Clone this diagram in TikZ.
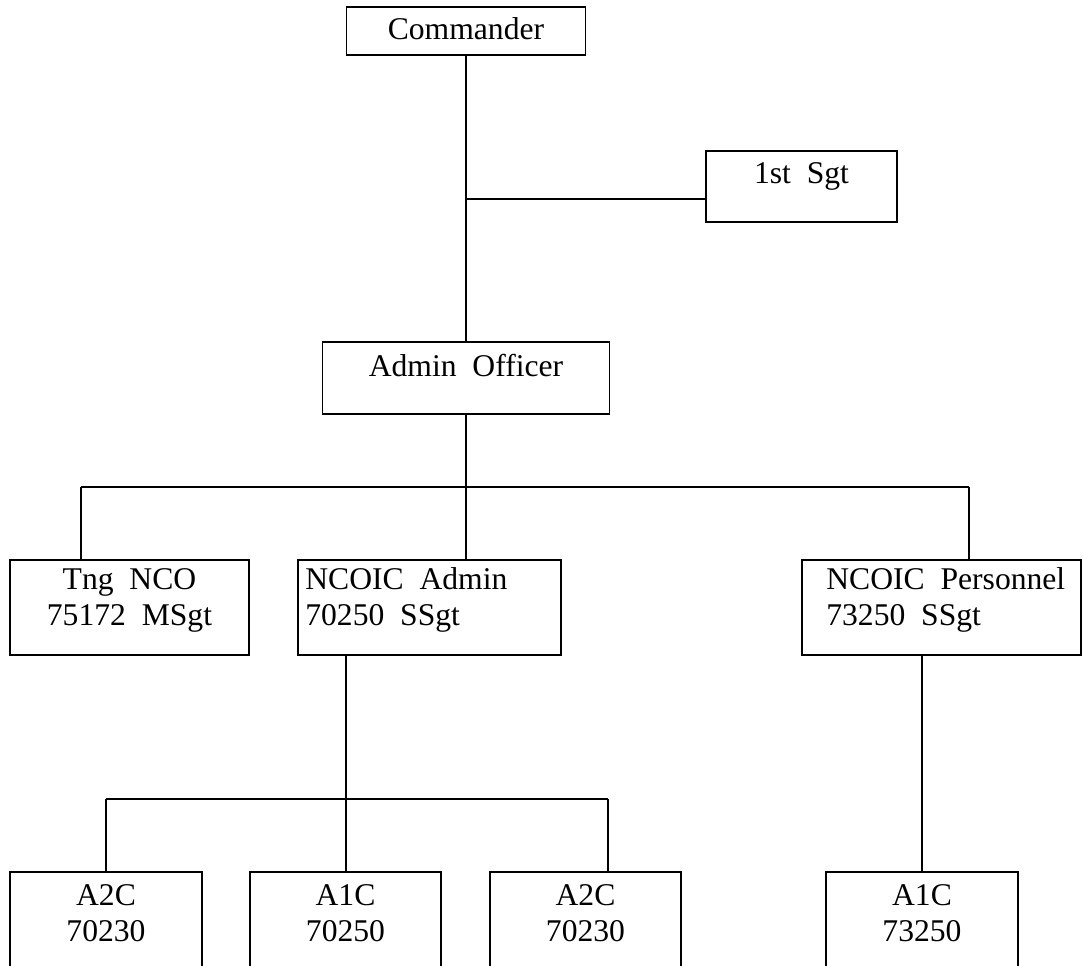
\documentclass[tikz,border=0pt]{standalone}
\usepackage{fontspec}
\setmainfont{Liberation Serif}
\usetikzlibrary{positioning}

\begin{document}
\begin{tikzpicture}[x=0.02cm, y=-0.02cm,
    post/.style 2 args={draw, line width=1pt, inner sep=0pt,
        minimum width=#1*0.02cm, minimum height=#2*0.02cm},
    txt/.style={font=\fontsize{18}{20.5}\selectfont, align=center, inner sep=0pt},
    lefttxt/.style={txt, align=left, anchor=west},
    link/.style={line width=1pt}]
  \useasboundingbox (0,0) rectangle (1083,965);
  \clip (0,0) rectangle (1083,965);
  % boxes
  \node[post={239}{48}] (cmd) at (466,31) {};
  \node[post={191}{71}] (sgt) at (801.5,186.5) {};
  \node[post={287}{72}] (adm) at (466,378) {};
  \node[post={239}{95}] (tng) at (129.5,607.5) {};
  \node[post={263}{95}] (ncoa) at (429.5,607.5) {};
  \node[post={279}{95}] (ncop) at (941.5,607.5) {};
  \node[post={192}{120}] (atwo) at (106,932) {};
  \node[post={191}{120}] (aone) at (345.5,932) {};
  \node[post={191}{120}] (athree) at (585.5,932) {};
  \node[post={192}{120}] (afour) at (922,932) {};
  % texts
  \node[txt] (cmdtxt) at (466,29) {Commander};
  \node[txt] (sgttxt) at (801.5,176) {1st\ \ Sgt};
  \node[txt] (admtxt) at (466,366) {Admin\ \ Officer};
  \node[txt] (tngtxt) at (129.5,600) {Tng\ \ NCO\\75172\ \ MSgt};
  \node[lefttxt] (ncoatxt) at (305,600) {NCOIC\ \ Admin\\70250\ \ SSgt};
  \node[lefttxt] (ncoptxt) at (826,600) {NCOIC\ \ Personnel\\73250\ \ SSgt};
  \node[txt] (atwotxt) at (106,913) {A2C\\70230};
  \node[txt] (aonetxt) at (345.5,913) {A1C\\70250};
  \node[txt] (athreetxt) at (585.5,913) {A2C\\70230};
  \node[txt] (afourtxt) at (922,913) {A1C\\73250};
  % lines
  \coordinate (j0) at (466,199);
  \coordinate (b0) at (466,487);
  \coordinate (b1) at (81,487);
  \coordinate (b3) at (969,487);
  \coordinate (c0) at (346,799);
  \coordinate (c1) at (106,799);
  \coordinate (c3) at (608,799);
  \draw[link] (cmd.south) -- (adm.north);
  \draw[link] (j0) -- (j0 -| sgt.west);
  \draw[link] (adm.south) -- (b0);
  \draw[link] (b1) -- (b3);
  \draw[link] (b1) -- (b1 |- tng.north);
  \draw[link] (b0) -- (b0 |- ncoa.north);
  \draw[link] (b3) -- (b3 |- ncop.north);
  \draw[link] (c0 |- ncoa.south) -- (c0);
  \draw[link] (c1) -- (c3);
  \draw[link] (c1) -- (atwo.north);
  \draw[link] (c0) -- (c0 |- aone.north);
  \draw[link] (c3) -- (c3 |- athree.north);
  \draw[link] (afour.north |- ncop.south) -- (afour.north);
\end{tikzpicture}
\end{document}
